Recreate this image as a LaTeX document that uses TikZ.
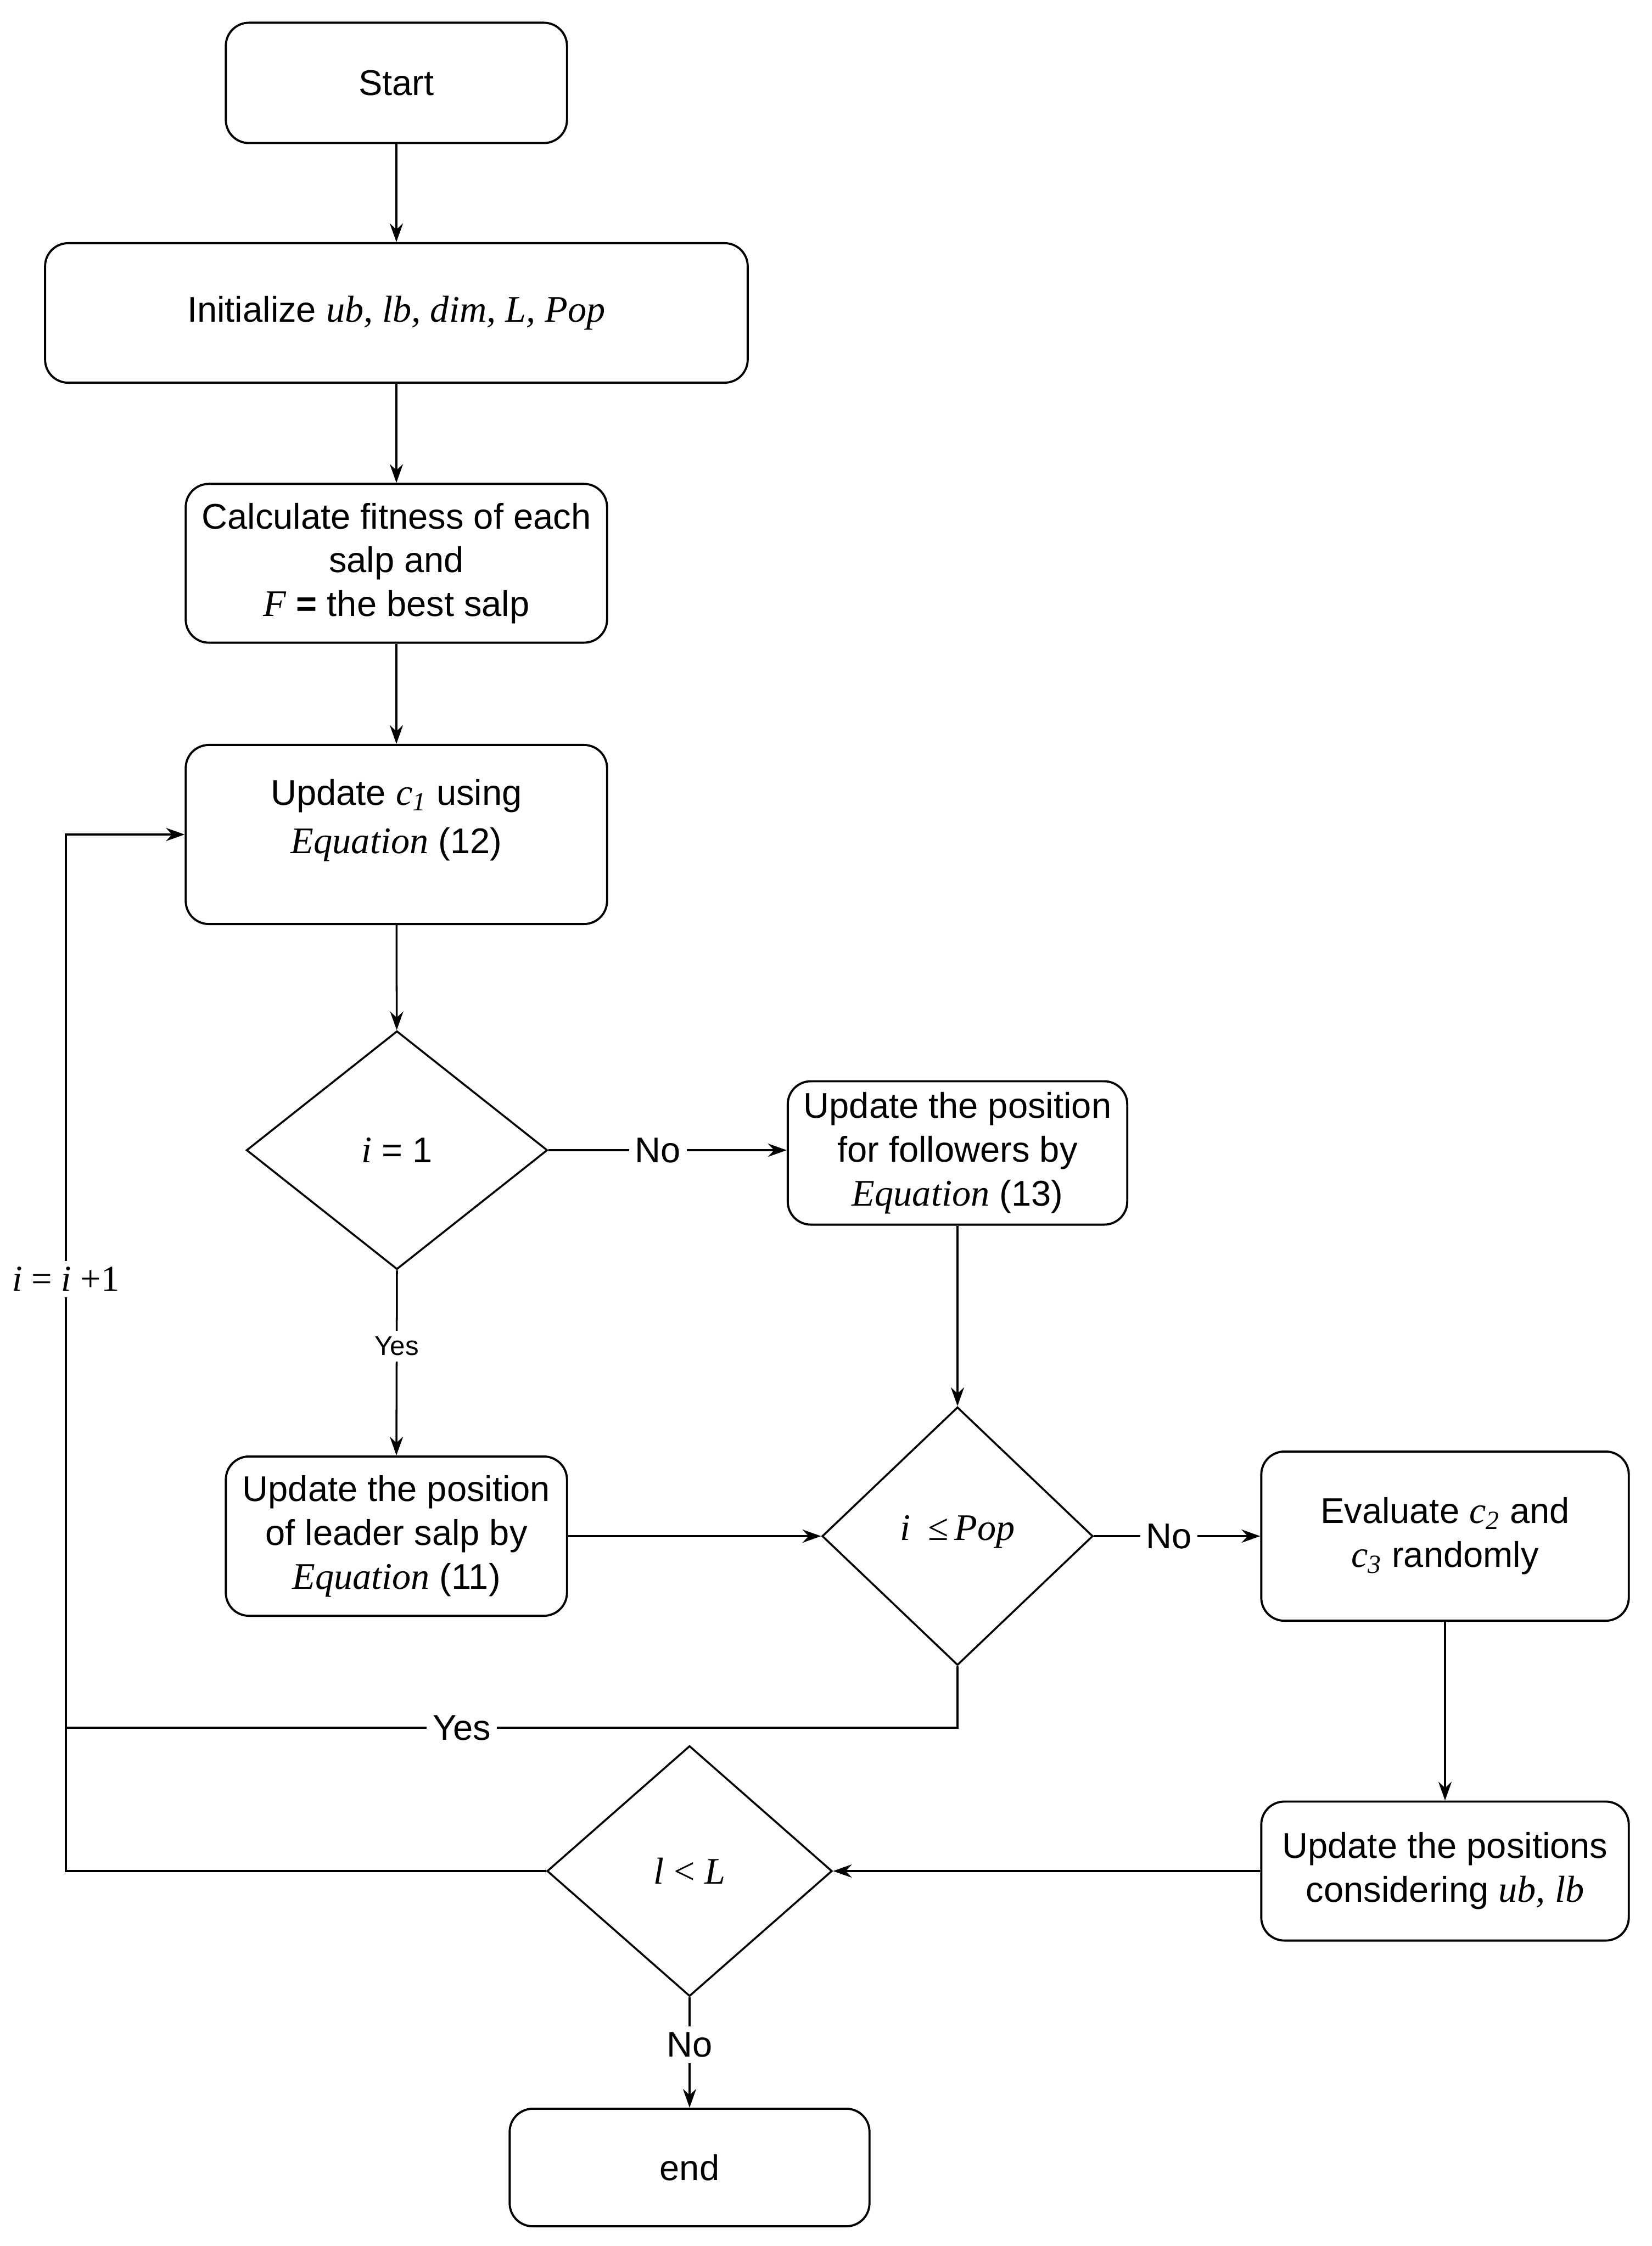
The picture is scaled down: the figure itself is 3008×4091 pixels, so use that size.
\documentclass[tikz,border=0pt]{standalone}
\usepackage{fontspec}
\setmainfont{Liberation Sans}
\newfontfamily\vserif{Liberation Serif}[Scale=1.05]
\newcommand\mv[1]{{\vserif\itshape #1}}
\newcommand\mr[1]{{\vserif #1}}
\usetikzlibrary{shapes.geometric,arrows.meta}
\begin{document}
\begin{tikzpicture}[x=0.01cm, y=-0.01cm,
  box/.style={draw, rounded corners=0.42cm, line width=1.1pt, align=center, inner sep=0pt},
  dia/.style={draw, diamond, line width=1pt, inner sep=0pt, align=center},
  conn/.style={line width=1pt, -{Stealth[length=0.34cm,width=0.24cm]}},
  plain/.style={line width=1pt},
  lbl/.style={fill=white, inner sep=3pt, font=\fontsize{18.5}{22}\selectfont},
  font=\fontsize{18.5}{22.7}\selectfont]
\useasboundingbox (0,0) rectangle (3008,4091);

\node[box, minimum width=6.21cm, minimum height=2.19cm] (start) at (722,151) {Start};
\node[box, minimum width=12.79cm, minimum height=2.54cm] (init) at (722,570)
  {Initialize \mv{ub, lb, dim, L, Pop}};
\node[box, minimum width=7.67cm, minimum height=2.89cm] (calc) at (722,1026)
  {Calculate fitness of each\\salp and\\\mv{F} \textbf{=} the best salp};
\node[box, minimum width=7.67cm, minimum height=3.26cm] (upd1) at (722,1520) {};
\node[align=center, inner sep=0pt, font=\fontsize{18.5}{25}\selectfont] (upd1t) at (722,1494)
  {Update \mv{c}\textsubscript{\mv{1}} using\\\mv{Equation} (12)};
\node[dia, minimum width=5.48cm, minimum height=4.34cm] (d1) at (723,2095) {\mv{i} = 1};
\node[box, minimum width=6.18cm, minimum height=2.61cm] (follow) at (1744,2100)
  {Update the position\\for followers by\\\mv{Equation} (13)};
\node[box, minimum width=6.21cm, minimum height=2.90cm] (leader) at (722,2798)
  {Update the position\\of leader salp by\\\mv{Equation} (11)};
\node[dia, minimum width=4.93cm, minimum height=4.70cm] (d2) at (1744,2798)
  {\raisebox{0.9ex}{\mv{i}\enspace\mr{≤}\,\mv{Pop}}};
\node[box, minimum width=6.69cm, minimum height=3.08cm] (eval) at (2632,2798)
  {Evaluate \mv{c}\textsubscript{\mv{2}} and\\\mv{c}\textsubscript{\mv{3}} randomly};
\node[box, minimum width=6.69cm, minimum height=2.53cm] (updpos) at (2632,3408)
  {Update the positions\\considering \mv{ub, lb}};
\node[dia, minimum width=5.19cm, minimum height=4.56cm] (d3) at (1256,3408)
  {\mv{l} \mr{<} \mv{L}};
\node[box, minimum width=6.55cm, minimum height=2.14cm] (endb) at (1256,3948) {end};

\coordinate (lx) at (120,0);
\coordinate (yj) at (120,3147);

\draw[conn] (start) -- (init);
\draw[conn] (init) -- (calc);
\draw[conn] (calc) -- (upd1);
\draw[conn] (upd1) -- (d1);
\draw[conn] (d1.east) -- node[lbl, pos=0.46]{No} (follow.west |- d1.east);
\draw[conn] (d1.south) -- node[lbl, pos=0.41, font=\fontsize{14}{17}\selectfont]{Yes} (leader.north);
\draw[conn] (follow.south) -- (d2.north);
\draw[conn] (leader.east) -- (d2.west);
\draw[conn] (d2.east) -- node[lbl, pos=0.45]{No} (eval.west);
\draw[conn] (eval.south) -- (updpos.north);
\draw[conn] (updpos.west) -- (d3.east);
\draw[conn] (d3.south) -- node[lbl, pos=0.43]{No} (endb.north);
\draw[plain] (d2.south) |- node[lbl, pos=0.778]{Yes} (yj);
\draw[conn] (d3.west) -- (d3.west -| lx) -- node[lbl, pos=0.571, font=\fontsize{18}{22}\vserif]{\mv{i} = \mv{i} +1} (upd1.west -| lx) -- (upd1.west);
\end{tikzpicture}
\end{document}
